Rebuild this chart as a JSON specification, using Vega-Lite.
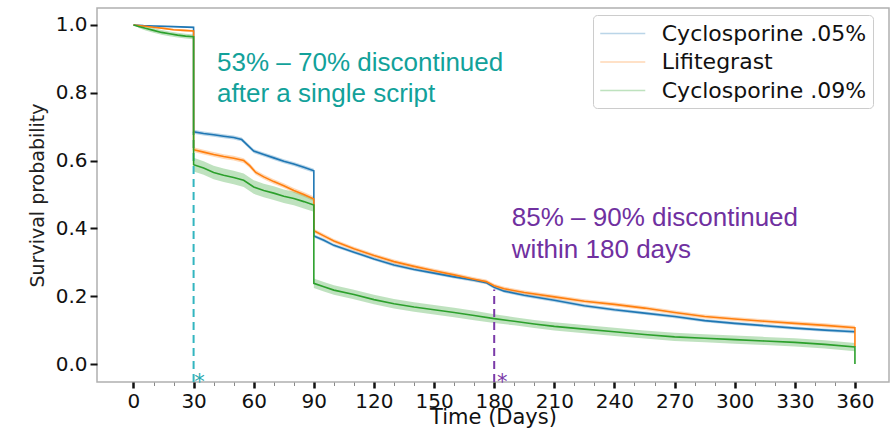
{
  "$schema": "https://vega.github.io/schema/vega-lite/v6.json",
  "width": 792,
  "height": 374,
  "autosize": {"type": "none"},
  "padding": {"left": 97, "top": 8, "right": 4, "bottom": 47},
  "background": "white",
  "config": {
    "view": {"stroke": "#b0b0b0", "strokeWidth": 1.5},
    "font": "DejaVu Sans"
  },
  "datasets": {
    "curves": [
      {"series": "Cyclosporine .05%", "day": 0, "s": 1.0, "lo": 1.0, "hi": 1.0},
      {"series": "Cyclosporine .05%", "day": 5, "s": 0.998, "lo": 0.996, "hi": 1.0},
      {"series": "Cyclosporine .05%", "day": 10, "s": 0.997, "lo": 0.995, "hi": 0.999},
      {"series": "Cyclosporine .05%", "day": 20, "s": 0.995, "lo": 0.993, "hi": 0.997},
      {"series": "Cyclosporine .05%", "day": 30, "s": 0.993, "lo": 0.991, "hi": 0.995},
      {"series": "Cyclosporine .05%", "day": 30, "s": 0.685, "lo": 0.679, "hi": 0.691},
      {"series": "Cyclosporine .05%", "day": 35, "s": 0.68, "lo": 0.674, "hi": 0.686},
      {"series": "Cyclosporine .05%", "day": 40, "s": 0.676, "lo": 0.67, "hi": 0.682},
      {"series": "Cyclosporine .05%", "day": 45, "s": 0.672, "lo": 0.666, "hi": 0.678},
      {"series": "Cyclosporine .05%", "day": 50, "s": 0.668, "lo": 0.662, "hi": 0.674},
      {"series": "Cyclosporine .05%", "day": 54, "s": 0.662, "lo": 0.656, "hi": 0.668},
      {"series": "Cyclosporine .05%", "day": 57, "s": 0.645, "lo": 0.639, "hi": 0.651},
      {"series": "Cyclosporine .05%", "day": 60, "s": 0.628, "lo": 0.622, "hi": 0.634},
      {"series": "Cyclosporine .05%", "day": 65, "s": 0.618, "lo": 0.612, "hi": 0.624},
      {"series": "Cyclosporine .05%", "day": 70, "s": 0.608, "lo": 0.602, "hi": 0.614},
      {"series": "Cyclosporine .05%", "day": 75, "s": 0.598, "lo": 0.592, "hi": 0.604},
      {"series": "Cyclosporine .05%", "day": 80, "s": 0.59, "lo": 0.584, "hi": 0.596},
      {"series": "Cyclosporine .05%", "day": 85, "s": 0.58, "lo": 0.574, "hi": 0.586},
      {"series": "Cyclosporine .05%", "day": 90, "s": 0.57, "lo": 0.564, "hi": 0.576},
      {"series": "Cyclosporine .05%", "day": 90, "s": 0.378, "lo": 0.373, "hi": 0.383},
      {"series": "Cyclosporine .05%", "day": 95, "s": 0.365, "lo": 0.36, "hi": 0.37},
      {"series": "Cyclosporine .05%", "day": 100, "s": 0.35, "lo": 0.345, "hi": 0.355},
      {"series": "Cyclosporine .05%", "day": 110, "s": 0.33, "lo": 0.325, "hi": 0.335},
      {"series": "Cyclosporine .05%", "day": 120, "s": 0.31, "lo": 0.305, "hi": 0.315},
      {"series": "Cyclosporine .05%", "day": 130, "s": 0.292, "lo": 0.287, "hi": 0.297},
      {"series": "Cyclosporine .05%", "day": 140, "s": 0.279, "lo": 0.274, "hi": 0.284},
      {"series": "Cyclosporine .05%", "day": 150, "s": 0.268, "lo": 0.263, "hi": 0.273},
      {"series": "Cyclosporine .05%", "day": 160, "s": 0.257, "lo": 0.252, "hi": 0.262},
      {"series": "Cyclosporine .05%", "day": 170, "s": 0.247, "lo": 0.242, "hi": 0.252},
      {"series": "Cyclosporine .05%", "day": 176, "s": 0.24, "lo": 0.235, "hi": 0.245},
      {"series": "Cyclosporine .05%", "day": 180, "s": 0.226, "lo": 0.221, "hi": 0.231},
      {"series": "Cyclosporine .05%", "day": 185, "s": 0.215, "lo": 0.21, "hi": 0.22},
      {"series": "Cyclosporine .05%", "day": 195, "s": 0.203, "lo": 0.198, "hi": 0.208},
      {"series": "Cyclosporine .05%", "day": 210, "s": 0.188, "lo": 0.183, "hi": 0.193},
      {"series": "Cyclosporine .05%", "day": 225, "s": 0.172, "lo": 0.167, "hi": 0.177},
      {"series": "Cyclosporine .05%", "day": 240, "s": 0.16, "lo": 0.155, "hi": 0.165},
      {"series": "Cyclosporine .05%", "day": 255, "s": 0.15, "lo": 0.145, "hi": 0.155},
      {"series": "Cyclosporine .05%", "day": 270, "s": 0.14, "lo": 0.135, "hi": 0.145},
      {"series": "Cyclosporine .05%", "day": 285, "s": 0.128, "lo": 0.123, "hi": 0.133},
      {"series": "Cyclosporine .05%", "day": 300, "s": 0.12, "lo": 0.115, "hi": 0.125},
      {"series": "Cyclosporine .05%", "day": 315, "s": 0.113, "lo": 0.108, "hi": 0.118},
      {"series": "Cyclosporine .05%", "day": 330, "s": 0.106, "lo": 0.101, "hi": 0.111},
      {"series": "Cyclosporine .05%", "day": 345, "s": 0.1, "lo": 0.095, "hi": 0.105},
      {"series": "Cyclosporine .05%", "day": 360, "s": 0.095, "lo": 0.09, "hi": 0.1},
      {"series": "Lifitegrast", "day": 0, "s": 1.0, "lo": 1.0, "hi": 1.0},
      {"series": "Lifitegrast", "day": 5, "s": 0.997, "lo": 0.994, "hi": 1.0},
      {"series": "Lifitegrast", "day": 10, "s": 0.993, "lo": 0.99, "hi": 0.996},
      {"series": "Lifitegrast", "day": 15, "s": 0.99, "lo": 0.987, "hi": 0.993},
      {"series": "Lifitegrast", "day": 20, "s": 0.986, "lo": 0.983, "hi": 0.989},
      {"series": "Lifitegrast", "day": 25, "s": 0.984, "lo": 0.981, "hi": 0.987},
      {"series": "Lifitegrast", "day": 30, "s": 0.982, "lo": 0.979, "hi": 0.985},
      {"series": "Lifitegrast", "day": 30, "s": 0.632, "lo": 0.625, "hi": 0.639},
      {"series": "Lifitegrast", "day": 35, "s": 0.625, "lo": 0.618, "hi": 0.632},
      {"series": "Lifitegrast", "day": 40, "s": 0.618, "lo": 0.611, "hi": 0.625},
      {"series": "Lifitegrast", "day": 45, "s": 0.612, "lo": 0.605, "hi": 0.619},
      {"series": "Lifitegrast", "day": 50, "s": 0.607, "lo": 0.6, "hi": 0.614},
      {"series": "Lifitegrast", "day": 55, "s": 0.6, "lo": 0.593, "hi": 0.607},
      {"series": "Lifitegrast", "day": 58, "s": 0.585, "lo": 0.578, "hi": 0.592},
      {"series": "Lifitegrast", "day": 61, "s": 0.565, "lo": 0.558, "hi": 0.572},
      {"series": "Lifitegrast", "day": 65, "s": 0.552, "lo": 0.545, "hi": 0.559},
      {"series": "Lifitegrast", "day": 70, "s": 0.538, "lo": 0.531, "hi": 0.545},
      {"series": "Lifitegrast", "day": 75, "s": 0.526, "lo": 0.519, "hi": 0.533},
      {"series": "Lifitegrast", "day": 80, "s": 0.512, "lo": 0.505, "hi": 0.519},
      {"series": "Lifitegrast", "day": 85, "s": 0.5, "lo": 0.493, "hi": 0.507},
      {"series": "Lifitegrast", "day": 90, "s": 0.487, "lo": 0.48, "hi": 0.494},
      {"series": "Lifitegrast", "day": 90, "s": 0.393, "lo": 0.387, "hi": 0.399},
      {"series": "Lifitegrast", "day": 95, "s": 0.378, "lo": 0.372, "hi": 0.384},
      {"series": "Lifitegrast", "day": 100, "s": 0.363, "lo": 0.357, "hi": 0.369},
      {"series": "Lifitegrast", "day": 110, "s": 0.34, "lo": 0.334, "hi": 0.346},
      {"series": "Lifitegrast", "day": 120, "s": 0.32, "lo": 0.314, "hi": 0.326},
      {"series": "Lifitegrast", "day": 130, "s": 0.302, "lo": 0.296, "hi": 0.308},
      {"series": "Lifitegrast", "day": 140, "s": 0.288, "lo": 0.282, "hi": 0.294},
      {"series": "Lifitegrast", "day": 150, "s": 0.275, "lo": 0.269, "hi": 0.281},
      {"series": "Lifitegrast", "day": 160, "s": 0.263, "lo": 0.257, "hi": 0.269},
      {"series": "Lifitegrast", "day": 170, "s": 0.25, "lo": 0.244, "hi": 0.256},
      {"series": "Lifitegrast", "day": 176, "s": 0.243, "lo": 0.237, "hi": 0.249},
      {"series": "Lifitegrast", "day": 180, "s": 0.231, "lo": 0.225, "hi": 0.237},
      {"series": "Lifitegrast", "day": 185, "s": 0.222, "lo": 0.216, "hi": 0.228},
      {"series": "Lifitegrast", "day": 195, "s": 0.211, "lo": 0.205, "hi": 0.217},
      {"series": "Lifitegrast", "day": 210, "s": 0.198, "lo": 0.192, "hi": 0.204},
      {"series": "Lifitegrast", "day": 225, "s": 0.185, "lo": 0.179, "hi": 0.191},
      {"series": "Lifitegrast", "day": 240, "s": 0.176, "lo": 0.17, "hi": 0.182},
      {"series": "Lifitegrast", "day": 255, "s": 0.165, "lo": 0.159, "hi": 0.171},
      {"series": "Lifitegrast", "day": 270, "s": 0.152, "lo": 0.146, "hi": 0.158},
      {"series": "Lifitegrast", "day": 285, "s": 0.14, "lo": 0.134, "hi": 0.146},
      {"series": "Lifitegrast", "day": 300, "s": 0.133, "lo": 0.127, "hi": 0.139},
      {"series": "Lifitegrast", "day": 315, "s": 0.126, "lo": 0.12, "hi": 0.132},
      {"series": "Lifitegrast", "day": 330, "s": 0.12, "lo": 0.114, "hi": 0.126},
      {"series": "Lifitegrast", "day": 345, "s": 0.114, "lo": 0.108, "hi": 0.12},
      {"series": "Lifitegrast", "day": 360, "s": 0.107, "lo": 0.101, "hi": 0.113},
      {"series": "Lifitegrast", "day": 360, "s": 0.05, "lo": 0.05, "hi": 0.05},
      {"series": "Cyclosporine .09%", "day": 0, "s": 1.0, "lo": 1.0, "hi": 1.0},
      {"series": "Cyclosporine .09%", "day": 3, "s": 0.995, "lo": 0.99, "hi": 1.0},
      {"series": "Cyclosporine .09%", "day": 6, "s": 0.99, "lo": 0.984, "hi": 0.996},
      {"series": "Cyclosporine .09%", "day": 10, "s": 0.984, "lo": 0.977, "hi": 0.991},
      {"series": "Cyclosporine .09%", "day": 14, "s": 0.978, "lo": 0.971, "hi": 0.985},
      {"series": "Cyclosporine .09%", "day": 18, "s": 0.974, "lo": 0.967, "hi": 0.981},
      {"series": "Cyclosporine .09%", "day": 22, "s": 0.97, "lo": 0.963, "hi": 0.977},
      {"series": "Cyclosporine .09%", "day": 26, "s": 0.967, "lo": 0.96, "hi": 0.974},
      {"series": "Cyclosporine .09%", "day": 30, "s": 0.965, "lo": 0.958, "hi": 0.972},
      {"series": "Cyclosporine .09%", "day": 30, "s": 0.588, "lo": 0.568, "hi": 0.608},
      {"series": "Cyclosporine .09%", "day": 35, "s": 0.578, "lo": 0.558, "hi": 0.598},
      {"series": "Cyclosporine .09%", "day": 40, "s": 0.565, "lo": 0.545, "hi": 0.585},
      {"series": "Cyclosporine .09%", "day": 45, "s": 0.557, "lo": 0.537, "hi": 0.577},
      {"series": "Cyclosporine .09%", "day": 50, "s": 0.55, "lo": 0.53, "hi": 0.57},
      {"series": "Cyclosporine .09%", "day": 55, "s": 0.542, "lo": 0.522, "hi": 0.562},
      {"series": "Cyclosporine .09%", "day": 60, "s": 0.522, "lo": 0.502, "hi": 0.542},
      {"series": "Cyclosporine .09%", "day": 65, "s": 0.512, "lo": 0.492, "hi": 0.532},
      {"series": "Cyclosporine .09%", "day": 70, "s": 0.504, "lo": 0.484, "hi": 0.524},
      {"series": "Cyclosporine .09%", "day": 75, "s": 0.495, "lo": 0.475, "hi": 0.515},
      {"series": "Cyclosporine .09%", "day": 80, "s": 0.488, "lo": 0.468, "hi": 0.508},
      {"series": "Cyclosporine .09%", "day": 85, "s": 0.479, "lo": 0.459, "hi": 0.499},
      {"series": "Cyclosporine .09%", "day": 90, "s": 0.469, "lo": 0.449, "hi": 0.489},
      {"series": "Cyclosporine .09%", "day": 90, "s": 0.238, "lo": 0.224, "hi": 0.252},
      {"series": "Cyclosporine .09%", "day": 95, "s": 0.228, "lo": 0.214, "hi": 0.242},
      {"series": "Cyclosporine .09%", "day": 100, "s": 0.218, "lo": 0.204, "hi": 0.232},
      {"series": "Cyclosporine .09%", "day": 110, "s": 0.205, "lo": 0.191, "hi": 0.219},
      {"series": "Cyclosporine .09%", "day": 120, "s": 0.19, "lo": 0.176, "hi": 0.204},
      {"series": "Cyclosporine .09%", "day": 130, "s": 0.178, "lo": 0.164, "hi": 0.192},
      {"series": "Cyclosporine .09%", "day": 140, "s": 0.168, "lo": 0.154, "hi": 0.182},
      {"series": "Cyclosporine .09%", "day": 150, "s": 0.16, "lo": 0.146, "hi": 0.174},
      {"series": "Cyclosporine .09%", "day": 160, "s": 0.152, "lo": 0.138, "hi": 0.166},
      {"series": "Cyclosporine .09%", "day": 170, "s": 0.143, "lo": 0.129, "hi": 0.157},
      {"series": "Cyclosporine .09%", "day": 180, "s": 0.134, "lo": 0.121, "hi": 0.147},
      {"series": "Cyclosporine .09%", "day": 190, "s": 0.126, "lo": 0.114, "hi": 0.138},
      {"series": "Cyclosporine .09%", "day": 200, "s": 0.118, "lo": 0.106, "hi": 0.13},
      {"series": "Cyclosporine .09%", "day": 210, "s": 0.111, "lo": 0.099, "hi": 0.123},
      {"series": "Cyclosporine .09%", "day": 225, "s": 0.103, "lo": 0.091, "hi": 0.115},
      {"series": "Cyclosporine .09%", "day": 240, "s": 0.095, "lo": 0.083, "hi": 0.107},
      {"series": "Cyclosporine .09%", "day": 255, "s": 0.087, "lo": 0.075, "hi": 0.099},
      {"series": "Cyclosporine .09%", "day": 270, "s": 0.08, "lo": 0.068, "hi": 0.092},
      {"series": "Cyclosporine .09%", "day": 285, "s": 0.076, "lo": 0.064, "hi": 0.088},
      {"series": "Cyclosporine .09%", "day": 300, "s": 0.072, "lo": 0.06, "hi": 0.084},
      {"series": "Cyclosporine .09%", "day": 315, "s": 0.068, "lo": 0.056, "hi": 0.08},
      {"series": "Cyclosporine .09%", "day": 330, "s": 0.064, "lo": 0.052, "hi": 0.076},
      {"series": "Cyclosporine .09%", "day": 345, "s": 0.058, "lo": 0.046, "hi": 0.07},
      {"series": "Cyclosporine .09%", "day": 360, "s": 0.05, "lo": 0.038, "hi": 0.062},
      {"series": "Cyclosporine .09%", "day": 360, "s": 0.0, "lo": 0.0, "hi": 0.0}
    ]
  },
  "encoding": {
    "x": {"field": "day", "type": "quantitative", "scale": {"domain": [-18.2, 377], "nice": false, "zero": false},
      "axis": {
        "values": [0,10,20,30,40,50,60,70,80,90,100,110,120,130,140,150,160,170,180,190,200,210,220,230,240,250,260,270,280,290,300,310,320,330,340,350,360],
        "labelExpr": "datum.value % 30 === 0 ? datum.label : ''",
        "labelOverlap": false,
        "domain": false, "grid": false,
        "tickSize": {"condition": {"test": "datum.value % 30 === 0", "value": 6}, "value": 3.5},
        "tickWidth": {"condition": {"test": "datum.value % 30 === 0", "value": 2.5}, "value": 1},
        "tickColor": {"condition": {"test": "datum.value % 30 === 0", "value": "#111111"}, "value": "#888888"},
        "labelFont": "DejaVu Sans", "labelFontSize": 20, "labelColor": "#111111", "labelPadding": 3,
        "title": "Time (Days)", "titleFont": "DejaVu Sans", "titleFontSize": 21, "titleFontWeight": "normal", "titleColor": "#111111",
        "titleY": 41, "titleBaseline": "alphabetic"
      }}
  },
  "layer": [
    {
      "data": {"name": "curves"},
      "mark": {"type": "area", "interpolate": "linear", "opacity": 0.3, "clip": true},
      "encoding": {
        "y": {"field": "lo", "type": "quantitative", "scale": {"domain": [-0.053, 1.05], "nice": false, "zero": false},
          "axis": {
            "values": [0, 0.2, 0.4, 0.6, 0.8, 1.0], "format": ".1f",
            "domain": false, "grid": false, "tickSize": 7, "tickWidth": 2, "tickColor": "#111111",
            "labelFont": "DejaVu Sans", "labelFontSize": 20, "labelColor": "#111111", "labelPadding": 3,
            "title": "Survival probability", "titleFont": "DejaVu Sans", "titleFontSize": 19, "titleFontWeight": "normal", "titleColor": "#222222", "titlePadding": 8
          }},
        "y2": {"field": "hi"},
        "color": {"field": "series", "type": "nominal",
          "scale": {"domain": ["Cyclosporine .05%", "Lifitegrast", "Cyclosporine .09%"], "range": ["#1f77b4", "#ff7f0e", "#2ca02c"]}}
      }
    },
    {
      "data": {"values": [{"day": 30, "from": -0.053, "to": 0.685}]},
      "mark": {"type": "rule", "color": "#33b5c0", "strokeWidth": 2, "strokeDash": [8, 5]},
      "encoding": {
        "y": {"field": "from", "type": "quantitative"},
        "y2": {"field": "to"}
      }
    },
    {
      "data": {"values": [{"day": 180, "from": -0.053, "to": 0.22}]},
      "mark": {"type": "rule", "color": "#7a3aa8", "strokeWidth": 2, "strokeDash": [8, 5]},
      "encoding": {
        "y": {"field": "from", "type": "quantitative"},
        "y2": {"field": "to"}
      }
    },
    {
      "data": {"name": "curves"},
      "mark": {"type": "line", "interpolate": "linear", "strokeWidth": 1.6, "clip": true},
      "encoding": {
        "y": {"field": "s", "type": "quantitative"},
        "color": {"field": "series", "type": "nominal",
          "scale": {"domain": ["Cyclosporine .05%", "Lifitegrast", "Cyclosporine .09%"], "range": ["#1f77b4", "#ff7f0e", "#2ca02c"]},
          "legend": {
            "orient": "none", "legendX": 496, "legendY": 7, "title": null,
            "symbolType": "M-2,0H2", "symbolSize": 506.25, "symbolOffset": 11.25, "symbolStrokeWidth": 1.6, "symbolOpacity": 0.6, "symbolFillColor": "transparent",
            "labelFont": "DejaVu Sans", "labelFontSize": 22, "labelColor": "#111111", "labelOffset": 26.5, "labelLimit": 400,
            "strokeColor": "#cccccc", "fillColor": "white", "cornerRadius": 4, "padding": 6, "rowPadding": 4.5
          }}
      }
    },
    {
      "data": {"values": [{"day": 41.7, "v": 0.865, "label": "53% – 70% discontinued\nafter a single script"}]},
      "mark": {"type": "text", "font": "Liberation Sans", "fontSize": 26, "color": "#12a19a", "align": "left", "baseline": "alphabetic", "lineBreak": "\n", "lineHeight": 31},
      "encoding": {
        "y": {"field": "v", "type": "quantitative"},
        "text": {"field": "label"}
      }
    },
    {
      "data": {"values": [{"day": 188.8, "v": 0.408, "label": "85% – 90% discontinued\nwithin 180 days"}]},
      "mark": {"type": "text", "font": "Liberation Sans", "fontSize": 26, "color": "#7030a0", "align": "left", "baseline": "alphabetic", "lineBreak": "\n", "lineHeight": 32},
      "encoding": {
        "y": {"field": "v", "type": "quantitative"},
        "text": {"field": "label"}
      }
    },
    {
      "data": {"values": [{"day": 33, "v": -0.037, "label": "*"}]},
      "mark": {"type": "text", "font": "DejaVu Sans", "fontSize": 21, "color": "#2aa8b0", "align": "center", "baseline": "middle", "dy": 6},
      "encoding": {
        "y": {"field": "v", "type": "quantitative"},
        "text": {"field": "label"}
      }
    },
    {
      "data": {"values": [{"day": 184, "v": -0.037, "label": "*"}]},
      "mark": {"type": "text", "font": "DejaVu Sans", "fontSize": 21, "color": "#7a3aa8", "align": "center", "baseline": "middle", "dy": 6},
      "encoding": {
        "y": {"field": "v", "type": "quantitative"},
        "text": {"field": "label"}
      }
    }
  ]
}
